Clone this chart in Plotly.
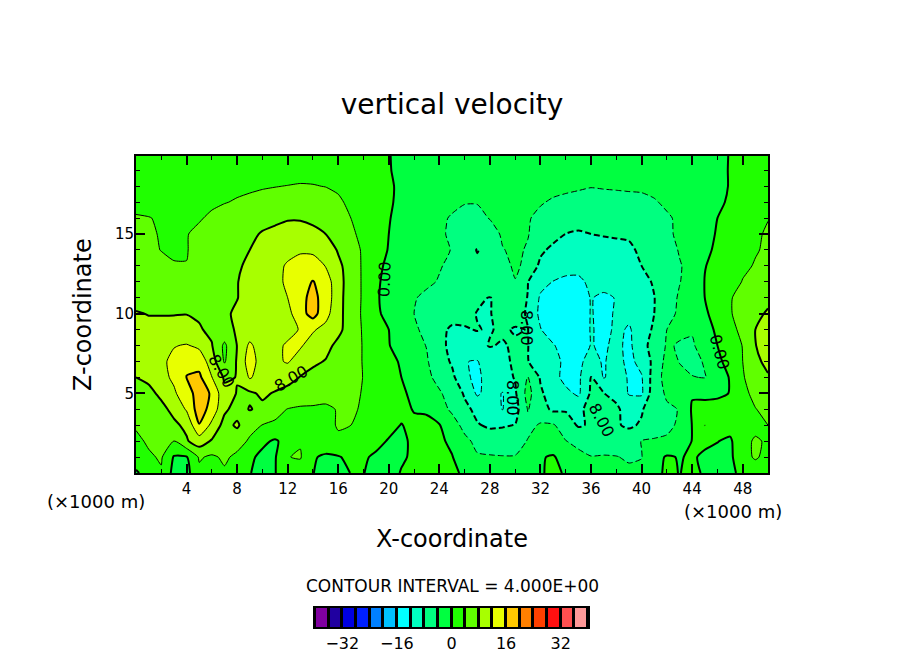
import plotly.graph_objects as go

# grid of the vertical velocity field
x_km = list(range(0, 51))
z_km = list(range(0, 21))

w00 = [-.5,1.5,3.6,-1.2,-1.2,3.2,2.5,3.5,2,.2, -1.6,-.1,1.6,2,.1,-1.3,-1.4,.1,.1,-1.2, -1.2,.2,1,1.3,1.5,1.3,-1,-2.6,-2.9,-3, -2.8,-1.6,-.4,.9,-.4,-2,-3,-3.2,-3.3,-3.5, -3.2,-1.2,.7,-.1,.8,-.4,-1.2,-.7,.8,2, 2.2]
w01 = [2,3.5,4.4,-.3,-.3,4.4,3.4,4.6,3.2,.7, -.9,-.3,3.9,4.3,.4,-.7,-.3,1,.3,-.4, -1,-.4,.5,.9,.7,.2,-2.4,-3.7,-3.7,-3.8, -3.8,-2.5,-.3,.4,-1.7,-3,-3.9,-3.8,-3.9,-4.3, -4.1,-1.5,.4,-.2,.4,-.6,-1,-.8,2.8,4.4, 3]
w02 = [3.2,4.5,5.2,3.9,7.6,10,7.6,7.7,5.5,3.5, .8,-.5,1.4,3.7,3,2.8,3.6,3.3,2.2,.7, -.2,-.6,.6,1,.8,-.9,-3.2,-4.8,-5.8,-6.2, -5.6,-3.8,-2.3,-2.6,-3.9,-5,-5.4,-5.4,-5.4,-5, -3.9,-3.7,-3.6,-2,.1,.7,.1,-.6,3,4.4, 3.6]
w03 = [4.4,4.9,5.8,7.3,8.8,15.8,11,6.6,8.6,5.2, 3.9,3.5,3.3,3.2,3.2,3.3,4.2,4,3,1.6, .8,-.1,.7,.9,.2,-2.5,-5,-7.7,-8.6,-8.3, -7.9,-5,-3.6,-3.6,-6,-8.4,-7.6,-6.5,-7.5,-8.8, -7.4,-5.4,-4.6,-3.6,.1,4.05,1.6,1.5,2.2,3.1, 4]
w04 = [4.5,5.6,7,9,12.4,18,14.5,8.7,6.5,8.2, 7.2,5,3.9,3.6,3.7,3.7,4.1,4.6,3.5,2.1, 1.6,.9,-.2,-.5,-2.6,-4.6,-7,-9,-10.5,-12.1, -9.6,-3.8,-6.4,-8.7,-8.4,-9,-6.6,-6,-7.4,-9.5, -8.5,-4.8,-4.4,-3.9,.4,1,1.2,1.5,2.5,3.9, 4.8]
w05 = [6.5,7,8.8,11.4,14.4,17.6,15.6,9,7.9,7.4, 8.6,7.7,6.5,5.7,5,4.6,4.5,4.7,3.8,2.2, 1.6,.7,-1,-2.8,-3.7,-5.1,-8.5,-12.6,-10.4,-12.2, -8.5,-2.6,-7.4,-10,-11,-12.7,-7.4,-7.9,-9,-12.3, -12.6,-5.4,-3.6,-2.6,-.3,-.7,-.6,.1,3.2,4.8, 6]
w06 = [8,8.8,10.8,12.7,16.05,16.8,12.1,7.5,8.1,12.4, 10.2,10,9.6,7.8,6.8,6.4,6,5.2,3.9,2.4, 1.1,0,-1.9,-3.4,-4.8,-7,-11.4,-12.7,-10.6,-9.2, -7.8,-3.8,-8.4,-10.5,-13.3,-12.8,-7.9,-12.3,-10,-12.4, -12.3,-6,-2.5,-3.3,-3.9,-4.1,-3.1,.4,3.8,5.2, 7.4]
w07 = [8.8,9.4,11.2,13,15.6,14.5,10,3.6,8.4,14, 10,11.4,12.3,10.4,8.7,7.8,7,5.4,3.8,1.9, 1,-.4,-2.6,-3.7,-6,-8.5,-11.9,-12.2,-10,-8.6, -7.6,-7.9,-9.5,-10.5,-13,-12.6,-11,-12.3,-10.6,-13, -10.8,-6.9,-2.8,-4.1,-4.7,-3.8,-1.1,1.8,4,6.6, 9.6]
w08 = [10,10.5,10.8,11.8,12.3,11.2,8.2,3.2,8.1,12.8, 9.7,10.9,12.6,12.4,10.4,9.2,7,5.4,3.8,1.5, .2,-2,-3,-4.1,-7,-8.9,-9,-9,-7.8,-8.3, -7.5,-7.9,-10.5,-11.6,-14.2,-14.6,-11.8,-12.6,-11,-13, -8.9,-7,-3.6,-4.3,-4.4,-2.5,0,2.4,4.1,7.8, 11]
w09 = [9,8.7,8.7,8.8,8.8,8.3,7.3,6.8,8.4,9.5, 9.9,10,10.6,12.3,12.4,10.8,9,6,3.6,1.2, 0,-2,-3.5,-4.8,-7.2,-8.5,-8.2,-7.9,-8.2,-7.5, -8.3,-7.9,-11.8,-14.5,-15,-15,-11.7,-13,-11.4,-12.3, -10.6,-7.2,-4,-3.3,-3.7,-.9,.4,3.3,4.6,8, 10]
w10 = [8.2,7.9,7.9,7.9,7.95,7.6,7.4,7.5,8.5,9.8, 9.9,10.4,10.8,14.5,17.5,13.4,9.2,6,3.4,.8, -1.3,-2.6,-4,-5.2,-6.2,-6.8,-7.3,-8.1,-8.1,-7.2, -6.6,-8.4,-13,-14,-14.4,-14.4,-11.8,-13,-11.6,-11.4, -10.4,-8,-5,-3.5,-2.2,-.4,1,3.8,5,7.4, 8.3]
w11 = [7,6.9,6.8,6.6,6.5,6.6,6.9,7.4,7.9,9.2, 10.1,11,12,15,17,14.5,9.3,6,3.5,.4, -1.2,-2.2,-3.8,-4.6,-5.4,-6,-6.6,-7.6,-8.1,-7, -6.4,-8.1,-12.5,-12.6,-13,-13,-11.9,-12.4,-11.9,-11.4, -10.2,-8.1,-5.2,-3.7,-2,0,1.4,3.8,4.9,6, 7.4]
w12 = [6.3,6.2,5.9,5.5,5.4,6,6.6,7.2,7.9,9, 10,11,12.6,14.5,16.2,14,9.5,6,3.5,.4, -.8,-1.8,-2.7,-3.5,-4.2,-5,-5.6,-6.1,-5.4,-4.7, -4.1,-7.9,-10.8,-12.1,-12.6,-12.4,-11.6,-11.2,-10.8,-10.1, -9.2,-7.6,-5.6,-4.1,-2.9,.1,.9,2.1,4.2,5.4, 6.5]
w13 = [6,5.6,5.1,4.05,4.05,5.4,6.3,7,7.6,8.6, 10,11,12.4,13.2,13.2,11.9,9,5.9,3.5,.6, -.5,-1.6,-2.4,-3,-3.8,-4.6,-6.2,-7.2,-6.4,-4.8, -3.6,-4.6,-9,-10.2,-11,-11.4,-11,-10.6,-10,-9, -8,-6.7,-5.2,-4.2,-3.1,-.1,.8,1.9,3.2,4.3, 5.6]
w14 = [5.8,4.8,3.9,3.9,3.9,4.7,5.4,6.1,6.9,8, 9.2,10.2,11,11.6,11.5,10.6,7.6,5.8,3.4,.8, -.1,-1.4,-2.5,-3.2,-3.7,-4.05,-6,-8.2,-6.4,-4.1, -3.6,-4.2,-7.2,-9,-9.2,-9.7,-9.5,-9.1,-8.8,-8.4, -7.6,-6.9,-5.2,-3.8,-2.6,-.6,.5,1.6,2.6,3.7, 4.6]
w15 = [5,4.4,3.8,3.5,3.9,4.5,5,5.6,6.3,7.3, 8.3,8.8,9,9,8.7,8,6.6,4.6,3.1,1.4, 0,-1.4,-2.5,-3.2,-3.8,-4.2,-5,-5.4,-5,-3.7, -3.6,-3.9,-5,-6.5,-8.05,-8.4,-8,-7.8,-7.7,-7.7, -7.5,-6.6,-4.2,-3.8,-2.9,-1.2,.3,1.4,2.4,3.5, 4.4]
w16 = [4.3,4.1,3.7,3.3,3.2,3.8,4.4,5,5.5,6.2, 6.8,7.3,7.8,7.8,7.4,6.9,6,4,3,1.5, .2,-1.2,-2.2,-3,-3.6,-4.2,-4.6,-4.6,-3.9,-3.4, -3.3,-3.8,-4.6,-5.4,-6,-6.6,-6.8,-6.6,-6.3,-6.2, -6,-5.5,-4.3,-3.6,-2.8,-1.6,0,1.2,2.2,3.1, 3.9]
w17 = [3,3,3,3,3.1,3.3,3.6,3.9,4.2,4.4, 4.6,4.8,5,5.2,5.3,5,4.3,3.6,2.9,1.6, .5,-.9,-1.9,-2.6,-3.1,-3.5,-3.9,-3.9,-3.4,-3.1, -3,-3.3,-3.8,-4.3,-4.6,-4.8,-5,-4.9,-4.9,-4.8, -4.6,-4.2,-3.6,-3,-2.5,-1.8,-.7,.5,1.5,2.2, 2.8]
w18 = [2.7,2.7,2.7,2.7,2.8,2.9,3.1,3.3,3.5,3.7, 3.85,3.95,4.05,4.15,4.1,3.95,3.7,3.3,2.6,1.5, .5,-.7,-1.6,-2.1,-2.4,-2.6,-2.7,-2.8,-2.9,-2.9, -3,-3,-3.1,-3.3,-3.5,-3.7,-3.9,-3.8,-3.7,-3.6, -3.6,-3.4,-3.2,-2.8,-2.4,-1.9,-1,.2,1.1,1.7, 2]
w19 = [2.4,2.4,2.4,2.4,2.4,2.5,2.6,2.7,2.8,2.9, 3,3.1,3.2,3.3,3.3,3.2,3.1,2.8,2.2,1.2, .2,-.8,-1.4,-1.7,-1.9,-2,-2.1,-2.1,-2.2,-2.2, -2.2,-2.2,-2.3,-2.4,-2.5,-2.6,-2.6,-2.6,-2.6,-2.6, -2.6,-2.5,-2.4,-2.2,-2,-1.6,-.9,.2,.9,1.3, 1.5]
w20 = [2,2,2,2,2,2,2,2,2,2, 2,2,2,2,2,2,2,1.8,1.4,.8, .1,-.6,-1,-1.2,-1.3,-1.4,-1.4,-1.5,-1.5,-1.5, -1.5,-1.5,-1.5,-1.6,-1.6,-1.6,-1.6,-1.6,-1.6,-1.6, -1.6,-1.5,-1.4,-1.3,-1.2,-1,-.6,.1,.6,.9, 1.1]
w_grid = [w00, w01, w02, w03, w04, w05, w06, w07, w08, w09, w10,
          w11, w12, w13, w14, w15, w16, w17, w18, w19, w20]

# one colour per 4 m/s band, -40 to 40
band_colors = ["#8000a0", "#2000a0", "#0000e0", "#0020ff", "#0080ff",
               "#00c0ff", "#00ffff", "#00ffc0", "#00ff80", "#00ff40",
               "#20ff00", "#60ff00", "#a8ff00", "#e8ff00", "#ffc800",
               "#ff8000", "#ff4000", "#ff1010", "#ff5050", "#ff9999"]
band_centers = [-38, -34, -30, -26, -22, -18, -14, -10, -6, -2,
                2, 6, 10, 14, 18, 22, 26, 30, 34, 38]

x_ticks = [4, 8, 12, 16, 20, 24, 28, 32, 36, 40, 44, 48]
z_ticks = [5, 10, 15]
legend_ticks = [-32, -16, 0, 16, 32]

# step colorscale, each band takes a 1/20 slice
colorscale = []
for i, c in enumerate(band_colors):
    colorscale.append([i / 20, c])
    colorscale.append([(i + 1) / 20, c])

FONT = "DejaVu Sans"

# plot box in page pixels: 136..768 wide, 156..627 high (with the legend strip)
def px(x):
    return (x - 136) / 632

def py(y):
    return (627 - y) / 471

fig = go.Figure()

# filled bands
fig.add_trace(go.Contour(x=x_km, y=z_km, z=w_grid, zmin=-40, zmax=40, colorscale=colorscale,
                         contours=dict(start=-40, end=40, size=4, coloring="fill", showlines=False),
                         line=dict(width=0, smoothing=0.6), showscale=False, hoverinfo="skip"))

# line styles: thick at multiples of 8, dashed when negative
def add_lines(start, end, width, dash):
    fig.add_trace(go.Contour(x=x_km, y=z_km, z=w_grid,
                             contours=dict(start=start, end=end, size=8, coloring="none"),
                             line=dict(color="black", width=width, dash=dash, smoothing=0.6),
                             showscale=False, hoverinfo="skip"))

add_lines(0, 16, 2, "solid")
add_lines(4, 12, 1, "solid")
add_lines(-16, -8, 2, "6px,3px")
add_lines(-12, -4, 1, "6px,3px")

# legend strip
fig.add_trace(go.Heatmap(x=band_centers, y=[0], z=[band_centers], zmin=-40, zmax=40,
                         colorscale=colorscale, showscale=False, xgap=3, hoverinfo="skip",
                         xaxis="x2", yaxis="y2"))

axis_common = dict(showgrid=False, zeroline=False, showline=True, linecolor="black", linewidth=2,
                   mirror="ticks", ticks="inside", tickcolor="black", tickwidth=2, ticklen=9,
                   automargin=False, tickfont=dict(family=FONT, size=15, color="black"))

# the page puts the figure 8 px in from the corner, so the margins are 8 px smaller
fig.update_layout(
    width=896, height=646, autosize=False,
    margin=dict(l=128, r=136, t=148, b=27),
    paper_bgcolor="white", plot_bgcolor="black", showlegend=False,
    title=dict(text="vertical velocity", x=128 / 896 + 316 / 896, xanchor="center",
               y=1 - 96 / 646, yanchor="middle",
               font=dict(family=FONT, size=28, color="black")),
    xaxis=dict(range=[0, 50], domain=[0, 1], tickmode="array", tickvals=x_ticks, ticklabelstandoff=1,
               minor=dict(ticks="inside", dtick=2, ticklen=4, tickcolor="black", tickwidth=1), anchor="y",
               **axis_common),
    yaxis=dict(range=[0, 19.9], domain=[(627 - 473) / 471, 1], tickmode="array", tickvals=z_ticks,
               minor=dict(ticks="inside", dtick=1, ticklen=4, tickcolor="black", tickwidth=1), anchor="x",
               ticklabelstandoff=-3, **axis_common),
    xaxis2=dict(range=[-40, 40], domain=[(315 - 136) / 632, (588 - 136) / 632], anchor="y2",
                tickmode="array", tickvals=legend_ticks, ticks="", showgrid=False, zeroline=False,
                showline=True, mirror=True, linecolor="black", linewidth=2, ticklabelstandoff=1,
                automargin=False, tickfont=dict(family=FONT, size=16, color="black")),
    yaxis2=dict(range=[-0.5, 0.5], domain=[0, (627 - 608) / 471], anchor="x2", showticklabels=False,
                ticks="", showgrid=False, zeroline=False, showline=True, mirror=True,
                automargin=False, linecolor="black", linewidth=2),
)

# plain texts around the frame
def add_text(text, x, y, size, angle=0):
    fig.add_annotation(text=text, xref="paper", yref="paper", x=px(x), y=py(y), showarrow=False,
                       textangle=angle, xanchor="center", yanchor="middle",
                       font=dict(family=FONT, size=size, color="black"))

add_text("Z-coordinate", 83, 315, 24, -90)
add_text("X-coordinate", 452, 539, 24)
add_text("(×1000 m)", 96, 501, 18)
add_text("(×1000 m)", 733, 511, 18)
add_text("CONTOUR INTERVAL = 4.000E+00", 452, 586, 17)

# contour labels
add_text("0.00", 384, 279, 16, -88)
add_text("8.00", 222, 371, 16, 60)
add_text("8.00", 291, 378, 16, -30)
add_text("8.00", 527, 328, 16, 90)
add_text("8.00", 513, 398, 16, 90)
add_text("8.00", 602, 420, 16, 62)
add_text("0.00", 720, 352, 16, 75)

fig.write_html("out.html")
